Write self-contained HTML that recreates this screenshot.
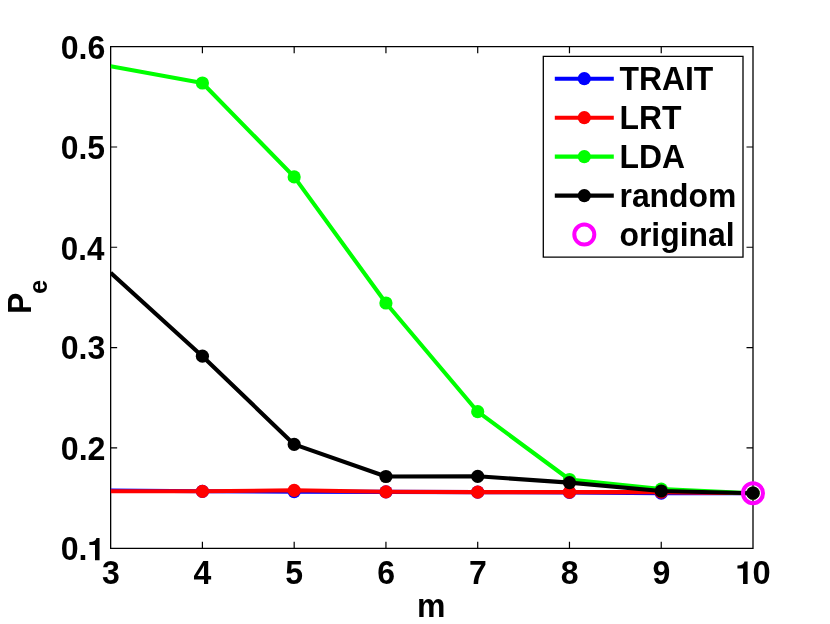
<!DOCTYPE html>
<html><head><meta charset="utf-8"><title>Pe vs m</title>
<style>
html,body{margin:0;padding:0;background:#fff;}
body{width:830px;height:624px;overflow:hidden;position:relative;font-family:"Liberation Sans",sans-serif;}
svg{position:absolute;left:0;top:0;will-change:transform;font-family:"Liberation Sans",sans-serif;font-weight:bold;fill:#000;}
</style></head><body>
<svg width="830" height="624" viewBox="0 0 830 624">
<defs><clipPath id="ax"><rect x="110.65" y="43.7" width="642.65" height="507.40"/></clipPath></defs>
<path d="M110.65 46.0 V548.95 M753.0 46.0 V548.95 M110.0 46.65 H753.65 M110.0 548.3 H753.65" stroke="#000" stroke-width="1.3" fill="none"/>
<path d="M202.41 548.3 V541.8 M202.41 46.65 V53.15 M294.18 548.3 V541.8 M294.18 46.65 V53.15 M385.94 548.3 V541.8 M385.94 46.65 V53.15 M477.71 548.3 V541.8 M477.71 46.65 V53.15 M569.47 548.3 V541.8 M569.47 46.65 V53.15 M661.24 548.3 V541.8 M661.24 46.65 V53.15 M110.65 447.82 H117.15 M753.0 447.82 H746.5 M110.65 347.54 H117.15 M753.0 347.54 H746.5 M110.65 247.26 H117.15 M753.0 247.26 H746.5 M110.65 146.98 H117.15 M753.0 146.98 H746.5" stroke="#000" stroke-width="1.2" fill="none"/>
<text transform="translate(102.06 583.90) scale(1.0 1.03)" font-size="32">3</text>
<text transform="translate(193.46 583.90) scale(1.0 1.03)" font-size="32">4</text>
<text transform="translate(285.33 583.90) scale(1.0 1.03)" font-size="32">5</text>
<text transform="translate(377.14 583.90) scale(1.0 1.03)" font-size="32">6</text>
<text transform="translate(468.92 583.90) scale(1.0 1.03)" font-size="32">7</text>
<text transform="translate(560.66 583.90) scale(1.0 1.03)" font-size="32">8</text>
<text transform="translate(652.48 583.90) scale(1.0 1.03)" font-size="32">9</text>
<path d="M747.60 583.90 V561.50 H744.50 Q743.70 565.40 737.45 565.50 V568.50 H743.05 V583.90 Z"/>
<text transform="translate(752.61 583.90) scale(1.02 1.03)" font-size="32">0</text>
<text transform="translate(60.73 460.20) scale(1.0063 1.03)" font-size="32">0.2</text>
<text transform="translate(60.73 359.20) scale(1.0033 1.03)" font-size="32">0.3</text>
<text transform="translate(60.76 259.80) scale(0.9803 1.03)" font-size="32">0.4</text>
<text transform="translate(60.74 159.20) scale(0.997 1.03)" font-size="32">0.5</text>
<text transform="translate(60.73 58.90) scale(1.0033 1.03)" font-size="32">0.6</text>
<text transform="translate(60.73 560.20) scale(1.004 1.03)" font-size="32">0.</text>
<path d="M99.55 560.30 V537.90 H96.45 Q95.65 541.80 89.40 541.90 V544.90 H95.00 V560.30 Z"/>
<text transform="translate(417.11 616.70) scale(1.0 1.035)" font-size="32">m</text>
<g transform="translate(31 313.94) rotate(-90)"><text transform="scale(1 1.03)" font-size="32">P</text><text transform="translate(19.9 16.1) scale(1 1.03)" font-size="25.6">e</text></g>
<polyline points="110.65,490.50 202.41,491.30 294.18,491.70 385.94,491.90 477.71,492.10 569.47,492.40 661.24,493.10 753.00,493.20" fill="none" stroke="#0000ff" stroke-width="4.1" stroke-linejoin="round" clip-path="url(#ax)"/>
<circle cx="202.41" cy="491.30" r="6.6" fill="#0000ff"/>
<circle cx="294.18" cy="491.70" r="6.6" fill="#0000ff"/>
<circle cx="385.94" cy="491.90" r="6.6" fill="#0000ff"/>
<circle cx="477.71" cy="492.10" r="6.6" fill="#0000ff"/>
<circle cx="569.47" cy="492.40" r="6.6" fill="#0000ff"/>
<circle cx="661.24" cy="493.10" r="6.6" fill="#0000ff"/>
<circle cx="753.00" cy="493.20" r="6.6" fill="#0000ff"/>

<polyline points="110.65,491.20 202.41,491.30 294.18,490.30 385.94,491.80 477.71,492.10 569.47,492.10 661.24,492.10 753.00,493.20" fill="none" stroke="#ff0000" stroke-width="4.1" stroke-linejoin="round" clip-path="url(#ax)"/>
<circle cx="202.41" cy="491.30" r="6.6" fill="#ff0000"/>
<circle cx="294.18" cy="490.30" r="6.6" fill="#ff0000"/>
<circle cx="385.94" cy="491.80" r="6.6" fill="#ff0000"/>
<circle cx="477.71" cy="492.10" r="6.6" fill="#ff0000"/>
<circle cx="569.47" cy="492.10" r="6.6" fill="#ff0000"/>
<circle cx="661.24" cy="492.10" r="6.6" fill="#ff0000"/>
<circle cx="753.00" cy="493.20" r="6.6" fill="#ff0000"/>

<polyline points="110.65,66.20 202.41,83.00 294.18,176.90 385.94,303.00 477.71,411.70 569.47,479.50 661.24,489.10 753.00,493.20" fill="none" stroke="#00ff00" stroke-width="4.1" stroke-linejoin="round" clip-path="url(#ax)"/>
<circle cx="202.41" cy="83.00" r="6.6" fill="#00ff00"/>
<circle cx="294.18" cy="176.90" r="6.6" fill="#00ff00"/>
<circle cx="385.94" cy="303.00" r="6.6" fill="#00ff00"/>
<circle cx="477.71" cy="411.70" r="6.6" fill="#00ff00"/>
<circle cx="569.47" cy="479.50" r="6.6" fill="#00ff00"/>
<circle cx="661.24" cy="489.10" r="6.6" fill="#00ff00"/>
<circle cx="753.00" cy="493.20" r="6.6" fill="#00ff00"/>

<polyline points="110.65,272.70 202.41,356.20 294.18,444.40 385.94,476.50 477.71,476.30 569.47,482.60 661.24,491.00 753.00,493.20" fill="none" stroke="#000000" stroke-width="4.1" stroke-linejoin="round" clip-path="url(#ax)"/>
<circle cx="202.41" cy="356.20" r="6.6" fill="#000000"/>
<circle cx="294.18" cy="444.40" r="6.6" fill="#000000"/>
<circle cx="385.94" cy="476.50" r="6.6" fill="#000000"/>
<circle cx="477.71" cy="476.30" r="6.6" fill="#000000"/>
<circle cx="569.47" cy="482.60" r="6.6" fill="#000000"/>
<circle cx="661.24" cy="491.00" r="6.6" fill="#000000"/>
<circle cx="753.00" cy="493.20" r="6.6" fill="#000000"/>

<circle cx="753.00" cy="493.2" r="10" fill="none" stroke="#ff00ff" stroke-width="4"/>
<rect x="543.3" y="56.4" width="199.7" height="200.7" fill="#fff"/>
<path d="M543.3 55.75 V257.75 M743 55.75 V257.75 M542.65 56.4 H743.65 M542.65 257.1 H743.65" stroke="#000" stroke-width="1.3" fill="none"/>
<line x1="554.8" x2="613.8" y1="78.7" y2="78.7" stroke="#0000ff" stroke-width="4.1"/>
<circle cx="584.3" cy="78.7" r="6.6" fill="#0000ff"/>
<text transform="translate(619.5 90.30) scale(0.996 1.03)" font-size="32">TRAIT</text>
<line x1="554.8" x2="613.8" y1="117.7" y2="117.7" stroke="#ff0000" stroke-width="4.1"/>
<circle cx="584.3" cy="117.7" r="6.6" fill="#ff0000"/>
<text transform="translate(619.5 129.30) scale(0.996 1.03)" font-size="32">LRT</text>
<line x1="554.8" x2="613.8" y1="156.6" y2="156.6" stroke="#00ff00" stroke-width="4.1"/>
<circle cx="584.3" cy="156.6" r="6.6" fill="#00ff00"/>
<text transform="translate(619.5 168.20) scale(0.996 1.03)" font-size="32">LDA</text>
<line x1="554.8" x2="613.8" y1="195.6" y2="195.6" stroke="#000000" stroke-width="4.1"/>
<circle cx="584.3" cy="195.6" r="6.6" fill="#000000"/>
<text transform="translate(619.5 207.20) scale(0.996 1.02)" font-size="32">random</text>
<circle cx="584.3" cy="234.6" r="10" fill="none" stroke="#ff00ff" stroke-width="4"/>
<text transform="translate(619.5 246.20) scale(0.996 1.02)" font-size="32">original</text>
</svg>
</body></html>
